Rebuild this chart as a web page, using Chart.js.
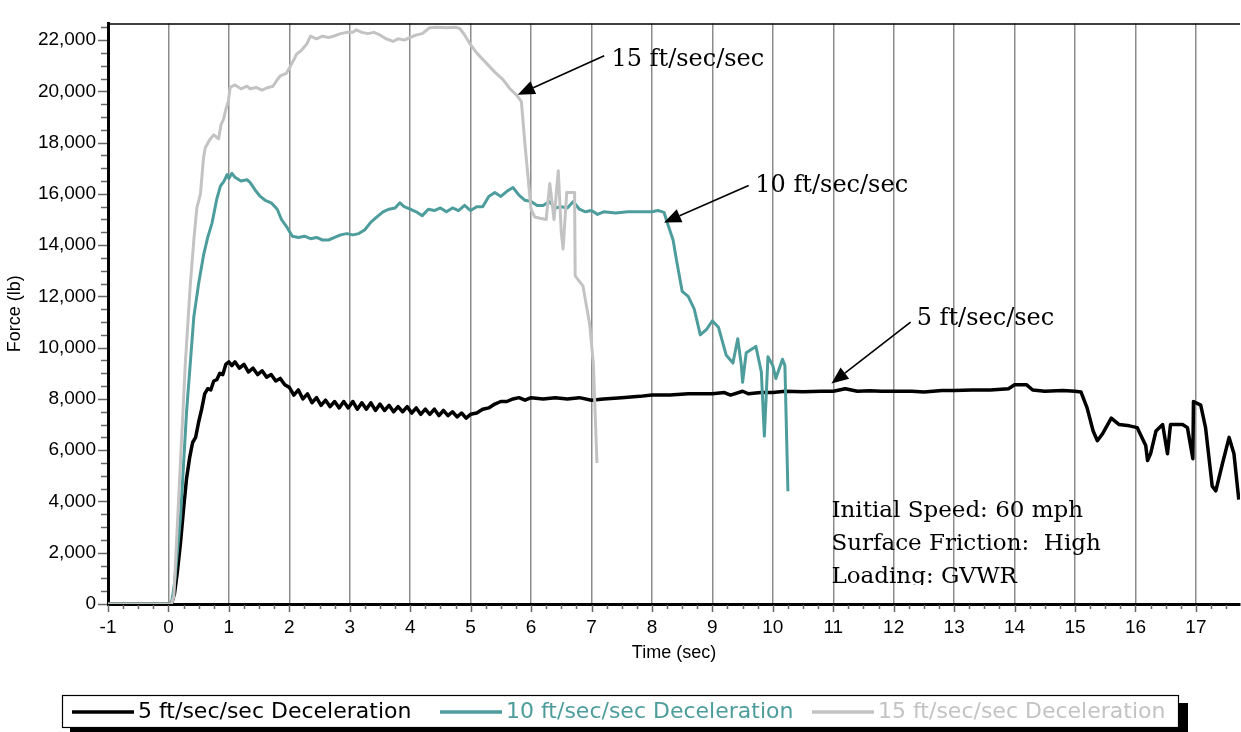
<!DOCTYPE html>
<html lang="en">
<head>
<meta charset="UTF-8">
<title>Force vs Time</title>
<script src="https://cdn.jsdelivr.net/npm/chart.js"></script>
<style>
  body { margin: 0; background: #fff; }
  #wrap { width: 1241px; height: 732px; }
</style>
</head>
<body>
<div id="wrap"><canvas id="forceChart" width="1241" height="732"></canvas></div>
<script>
// values, [time (sec), force (lb)]
const decel5 = [
  [-1, 0], [0.05, 0], [0.1, 400], [0.15, 1300], [0.2, 2400], [0.25, 3700], [0.3, 4900], [0.35, 5700],
  [0.4, 6300], [0.45, 6500], [0.5, 7100], [0.55, 7600], [0.6, 8200], [0.65, 8400], [0.7, 8350], [0.75, 8700],
  [0.8, 8750], [0.85, 9000], [0.9, 8950], [0.95, 9350], [1.0, 9450], [1.05, 9300], [1.1, 9450], [1.175, 9200],
  [1.25, 9350], [1.325, 9050], [1.4, 9200], [1.475, 8950], [1.55, 9100], [1.625, 8850], [1.7, 8950], [1.775, 8700],
  [1.85, 8800], [1.925, 8550], [2.0, 8450], [2.075, 8150], [2.15, 8350], [2.225, 8000], [2.3, 8200], [2.375, 7850],
  [2.45, 8050], [2.525, 7750], [2.6, 7950], [2.675, 7700], [2.75, 7900], [2.825, 7650], [2.9, 7900], [2.975, 7650],
  [3.05, 7900], [3.125, 7600], [3.2, 7850], [3.275, 7600], [3.35, 7850], [3.425, 7550], [3.5, 7800], [3.575, 7550],
  [3.65, 7750], [3.725, 7500], [3.8, 7700], [3.875, 7500], [3.95, 7700], [4.025, 7450], [4.1, 7650], [4.175, 7400],
  [4.25, 7600], [4.325, 7400], [4.4, 7600], [4.475, 7350], [4.55, 7550], [4.625, 7350], [4.7, 7500], [4.775, 7300],
  [4.85, 7450], [4.925, 7250], [5.0, 7400], [5.1, 7450], [5.2, 7600], [5.3, 7650], [5.4, 7800], [5.5, 7900],
  [5.6, 7900], [5.7, 8000], [5.8, 8050], [5.9, 7950], [6.0, 8050], [6.2, 8000], [6.4, 8050], [6.6, 8000],
  [6.8, 8050], [7.0, 7950], [7.2, 8000], [7.5, 8050], [7.8, 8100], [8.0, 8150], [8.3, 8150], [8.6, 8200],
  [9.0, 8200], [9.2, 8250], [9.3, 8150], [9.5, 8300], [9.6, 8200], [9.8, 8250], [10.0, 8250], [10.2, 8300],
  [10.5, 8280], [10.8, 8300], [11.0, 8300], [11.2, 8400], [11.4, 8300], [11.6, 8320], [11.8, 8300], [12.0, 8300],
  [12.3, 8300], [12.5, 8270], [12.8, 8330], [13.0, 8330], [13.3, 8350], [13.6, 8350], [13.9, 8400], [14.0, 8550],
  [14.2, 8550], [14.3, 8350], [14.5, 8300], [14.8, 8330], [15.0, 8300], [15.1, 8270], [15.2, 7650], [15.3, 6750],
  [15.37, 6370], [15.45, 6620], [15.6, 7250], [15.73, 7000], [15.9, 6950], [16.03, 6880], [16.17, 6180], [16.2, 5600],
  [16.25, 5860], [16.34, 6750], [16.45, 7000], [16.53, 5860], [16.58, 7000], [16.78, 7000], [16.86, 6880], [16.95, 5670],
  [16.96, 7900], [17.08, 7760], [17.16, 6880], [17.27, 4600], [17.33, 4410], [17.44, 5480], [17.55, 6500], [17.63, 5860],
  [17.71, 4070]
];

const decel10 = [
  [-1, 0], [0.05, 0], [0.1, 800], [0.2, 3400], [0.3, 7500], [0.42, 11200], [0.5, 12500], [0.58, 13600],
  [0.65, 14300], [0.72, 14850], [0.8, 15800], [0.86, 16300], [0.92, 16500], [0.97, 16750], [1.0, 16600], [1.05, 16800],
  [1.1, 16650], [1.2, 16500], [1.3, 16550], [1.35, 16450], [1.45, 16100], [1.52, 15900], [1.6, 15750], [1.7, 15650],
  [1.8, 15400], [1.87, 15000], [1.96, 14700], [2.05, 14350], [2.15, 14300], [2.25, 14350], [2.35, 14250], [2.45, 14300],
  [2.55, 14200], [2.65, 14200], [2.75, 14300], [2.85, 14400], [2.95, 14450], [3.05, 14400], [3.15, 14450], [3.25, 14600],
  [3.35, 14900], [3.45, 15100], [3.55, 15300], [3.65, 15400], [3.75, 15450], [3.83, 15650], [3.9, 15500], [4.0, 15400],
  [4.1, 15300], [4.2, 15150], [4.3, 15400], [4.4, 15350], [4.5, 15450], [4.6, 15300], [4.7, 15450], [4.8, 15350],
  [4.9, 15550], [5.0, 15350], [5.1, 15500], [5.2, 15500], [5.3, 15900], [5.4, 16050], [5.5, 15900], [5.6, 16100],
  [5.7, 16250], [5.8, 15950], [5.9, 15750], [6.0, 15700], [6.1, 15550], [6.2, 15550], [6.3, 15700], [6.4, 15450],
  [6.5, 15500], [6.6, 15450], [6.7, 15700], [6.8, 15400], [6.9, 15300], [7.0, 15350], [7.1, 15200], [7.2, 15300],
  [7.4, 15250], [7.6, 15300], [7.8, 15300], [8.0, 15300], [8.1, 15350], [8.2, 15280], [8.25, 14900], [8.35, 14200],
  [8.4, 13500], [8.5, 12200], [8.6, 12000], [8.7, 11500], [8.8, 10500], [8.9, 10700], [9.0, 11050], [9.1, 10800],
  [9.23, 9700], [9.34, 9400], [9.42, 10350], [9.48, 9300], [9.5, 8650], [9.56, 9800], [9.72, 10050], [9.81, 9050],
  [9.86, 6550], [9.92, 9650], [10.0, 9300], [10.05, 8800], [10.16, 9550], [10.2, 9300], [10.25, 4400]
];

const decel15 = [
  [-1, 0], [0.05, 0], [0.09, 300], [0.2, 5600], [0.28, 9400], [0.36, 12400], [0.42, 14200], [0.47, 15450],
  [0.53, 16000], [0.58, 17400], [0.61, 17800], [0.68, 18100], [0.75, 18300], [0.83, 18150], [0.87, 18700], [0.91, 18900],
  [0.95, 19300], [0.99, 19600], [1.02, 20150], [1.1, 20250], [1.2, 20100], [1.3, 20200], [1.35, 20100], [1.45, 20150],
  [1.55, 20050], [1.65, 20150], [1.73, 20200], [1.8, 20450], [1.85, 20600], [1.95, 20700], [2.01, 20950], [2.08, 21250],
  [2.12, 21450], [2.2, 21600], [2.29, 21850], [2.35, 22150], [2.45, 22050], [2.55, 22150], [2.65, 22100], [2.73, 22150],
  [2.85, 22250], [2.95, 22300], [3.05, 22300], [3.11, 22400], [3.2, 22300], [3.3, 22250], [3.4, 22300], [3.5, 22200],
  [3.6, 22050], [3.72, 21950], [3.8, 22050], [3.9, 22000], [4.0, 22100], [4.1, 22200], [4.2, 22250], [4.32, 22480],
  [4.45, 22500], [4.6, 22480], [4.75, 22500], [4.82, 22450], [4.9, 22200], [4.99, 21850], [5.1, 21500], [5.26, 21100],
  [5.4, 20750], [5.54, 20450], [5.65, 20100], [5.76, 19850], [5.84, 19600], [5.9, 17900], [6.0, 15400], [6.06, 15100],
  [6.15, 15050], [6.25, 15000], [6.31, 16400], [6.38, 15000], [6.45, 16900], [6.5, 14500], [6.53, 13850], [6.59, 16050],
  [6.72, 16050], [6.73, 12800], [6.86, 12400], [6.97, 10900], [7.03, 9400], [7.09, 5500]
];

const seriesNames = ['5 ft/sec/sec Deceleration', '10 ft/sec/sec Deceleration', '15 ft/sec/sec Deceleration'];
const seriesColors = ['#000000', '#4d9d9c', '#c3c3c3'];
const forceTicks = [0, 2000, 4000, 6000, 8000, 10000, 12000, 14000, 16000, 18000, 20000, 22000];

// callouts in data units: label start, arrow tail, arrow tip
const callouts = [
  { text: '15 ft/sec/sec', at: [7.33, 20970], tail: [7.21, 21390], tip: [5.78, 19870] },
  { text: '10 ft/sec/sec', at: [9.71, 16060], tail: [9.6, 16330], tip: [8.2, 14880] },
  { text: '5 ft/sec/sec', at: [12.38, 10885], tail: [12.28, 11000], tip: [10.97, 8600] }
];
const infoLines = ['Initial Speed: 60 mph', 'Surface Friction:  High', 'Loading: GVWR'];

const sansFont = '"Liberation Sans", Arial, sans-serif';
const serifFont = '"DejaVu Serif", serif';

function toPoints(rows) {
  return rows.map(r => ({ x: r[0], y: r[1] }));
}

function drawArrow(ctx, x1, y1, x2, y2) {
  const ang = Math.atan2(y2 - y1, x2 - x1);
  const head = 17, half = 7;
  const bx = x2 - head * Math.cos(ang), by = y2 - head * Math.sin(ang);
  ctx.beginPath();
  ctx.moveTo(x1, y1);
  ctx.lineTo(bx, by);
  ctx.stroke();
  ctx.beginPath();
  ctx.moveTo(x2, y2);
  ctx.lineTo(bx + half * Math.sin(ang), by - half * Math.cos(ang));
  ctx.lineTo(bx - half * Math.sin(ang), by + half * Math.cos(ang));
  ctx.closePath();
  ctx.fill();
}

// frame, minor ticks, callouts, info text and the boxed legend
const extras = {
  id: 'extras',
  afterDraw(chart) {
    const { ctx, chartArea: area, scales: { x, y } } = chart;
    ctx.save();

    // top frame line
    ctx.strokeStyle = '#000';
    ctx.lineWidth = 1.5;
    ctx.beginPath();
    ctx.moveTo(area.left, area.top + 0.5);
    ctx.lineTo(area.right, area.top + 0.5);
    ctx.stroke();

    // tick marks
    ctx.strokeStyle = '#666';
    ctx.lineWidth = 1.5;
    for (let v = x.min; v <= x.max + 1e-9; v += 0.25) {
      const px = Math.round(x.getPixelForValue(v)) + 0.5;
      const len = Math.abs(v - Math.round(v)) < 1e-6 ? 7 : 4;
      ctx.beginPath();
      ctx.moveTo(px, area.bottom + 1);
      ctx.lineTo(px, area.bottom + 1 + len);
      ctx.stroke();
    }
    for (let v = 0; v <= y.max; v += 500) {
      const py = Math.round(y.getPixelForValue(v)) + 0.5;
      const len = v % 2000 === 0 ? 9 : 6;
      ctx.beginPath();
      ctx.moveTo(area.left - 1, py);
      ctx.lineTo(area.left - 1 - len, py);
      ctx.stroke();
    }

    // callouts
    ctx.strokeStyle = '#000';
    ctx.fillStyle = '#000';
    ctx.lineWidth = 1.6;
    ctx.font = '24px ' + serifFont;
    ctx.textBaseline = 'alphabetic';
    ctx.textAlign = 'left';
    callouts.forEach(c => {
      drawArrow(ctx, x.getPixelForValue(c.tail[0]), y.getPixelForValue(c.tail[1]),
        x.getPixelForValue(c.tip[0]), y.getPixelForValue(c.tip[1]));
      ctx.fillText(c.text, x.getPixelForValue(c.at[0]), y.getPixelForValue(c.at[1]));
    });

    // test conditions box (bottom of the last line is cut off like the source)
    const bx = x.getPixelForValue(10.97);
    const by = y.getPixelForValue(3390);
    ctx.save();
    ctx.beginPath();
    ctx.rect(bx - 5, by - 30, 300, 30 + 33 * 2 + 2);
    ctx.clip();
    ctx.font = '23px ' + serifFont;
    infoLines.forEach((line, i) => ctx.fillText(line, bx, by + i * 33));
    ctx.restore();

    // legend box with drop shadow
    const lx = 62, ly = 695, lw = 1116, lh = 32;
    ctx.fillStyle = '#000';
    ctx.fillRect(lx + 8, ly + 8, lw + 2, lh + 2);
    ctx.fillStyle = '#fff';
    ctx.fillRect(lx, ly, lw, lh);
    ctx.strokeStyle = '#000';
    ctx.lineWidth = 1.2;
    ctx.strokeRect(lx + 0.5, ly + 0.5, lw, lh);
    const itemX = [72, 440, 812];
    ctx.font = '22px "DejaVu Sans", sans-serif';
    ctx.textBaseline = 'middle';
    chart.data.datasets.forEach((ds, i) => {
      const mid = ly + lh / 2 + 1;
      ctx.strokeStyle = ds.borderColor;
      ctx.lineWidth = 3.5;
      ctx.beginPath();
      ctx.moveTo(itemX[i], mid);
      ctx.lineTo(itemX[i] + 62, mid);
      ctx.stroke();
      ctx.fillStyle = ds.borderColor;
      ctx.fillText(ds.label, itemX[i] + 66, mid);
    });

    ctx.restore();
  }
};

const ctx = document.getElementById('forceChart').getContext('2d');
const chart = new Chart(ctx, {
  type: 'line',
  data: {
    datasets: [
      { label: seriesNames[0], data: toPoints(decel5), borderColor: seriesColors[0], borderWidth: 3.5, order: 3 },
      { label: seriesNames[1], data: toPoints(decel10), borderColor: seriesColors[1], borderWidth: 3, order: 2 },
      { label: seriesNames[2], data: toPoints(decel15), borderColor: seriesColors[2], borderWidth: 3, order: 1 }
    ]
  },
  options: {
    responsive: false,
    animation: false,
    layout: { padding: { top: 9, right: 1, bottom: 60, left: 0 } },
    elements: { point: { radius: 0 }, line: { tension: 0, borderJoinStyle: 'round' } },
    plugins: {
      legend: { display: false },
      tooltip: { enabled: false }
    },
    scales: {
      x: {
        type: 'linear',
        min: -1,
        max: 17.73,
        ticks: {
          stepSize: 1,
          includeBounds: false,
          maxTicksLimit: 30,
          autoSkip: false,
          maxRotation: 0,
          padding: 12,
          color: '#000',
          font: { family: sansFont, size: 19 }
        },
        grid: { color: '#8c8c8c', lineWidth: 1.5, drawTicks: false },
        border: { color: '#000', width: 3 },
        title: {
          display: true,
          text: 'Time (sec)',
          color: '#000',
          font: { family: sansFont, size: 18 },
          padding: { top: 4, bottom: 8 }
        },
        afterFit: s => { s.height = 68; }
      },
      y: {
        min: 0,
        max: 22650,
        afterBuildTicks: s => { s.ticks = forceTicks.map(v => ({ value: v })); },
        ticks: {
          autoSkip: false,
          padding: 12,
          color: '#000',
          font: { family: sansFont, size: 19 },
          callback: v => v.toLocaleString('en-US')
        },
        grid: { display: false, drawTicks: false },
        border: { color: '#000', width: 3 },
        title: {
          display: true,
          text: 'Force (lb)',
          color: '#000',
          font: { family: sansFont, size: 18 },
          padding: { top: 4, bottom: 0 }
        },
        afterFit: s => { s.width = 108; }
      }
    }
  },
  plugins: [extras]
});
</script>
</body>
</html>
